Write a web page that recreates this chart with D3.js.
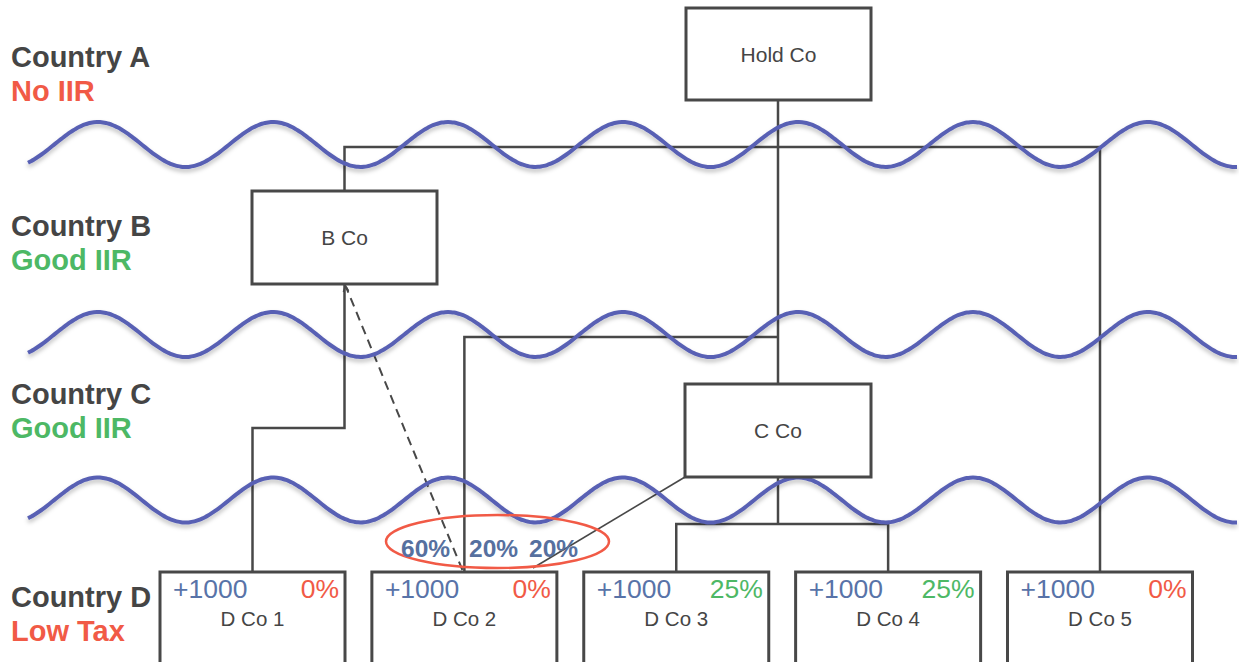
<html>
<head>
  <title>IIR structure</title>
  <script src="https://d3js.org/d3.v7.min.js"></script>
  <style>
    body { margin: 0; background: #ffffff; }
    svg { font-family: "Liberation Sans", Arial, sans-serif; }
  </style>
</head>
<body>
  <svg id="chart" width="1239" height="662"></svg>
  <script>
    // country bands
    const countries = ['Country A', 'Country B', 'Country C', 'Country D'];
    const regimes = ['No IIR', 'Good IIR', 'Good IIR', 'Low Tax'];
    const regimeKind = ['bad', 'good', 'good', 'bad'];

    // subsidiaries at the bottom
    const dCos = ['D Co 1', 'D Co 2', 'D Co 3', 'D Co 4', 'D Co 5'];
    const dIncome = ['+1000', '+1000', '+1000', '+1000', '+1000'];
    const dRate = ['0%', '0%', '25%', '25%', '0%'];
    const dRateKind = ['bad', 'bad', 'good', 'good', 'bad'];

    // ownership of D Co 2
    const shares = ['60%', '20%', '20%'];

    const colors = { bad: '#f15a46', good: '#4db865', text: '#454545', blue: '#5873a8', wave: '#5961b4', line: '#484848' };

    const svg = d3.select('#chart');

    const defs = svg.append('defs');
    const f = defs.append('filter').attr('id', 'shadow')
      .attr('x', '-5%').attr('y', '-50%').attr('width', '110%').attr('height', '200%');
    f.append('feDropShadow').attr('dx', 0).attr('dy', 3).attr('stdDeviation', 2)
      .attr('flood-color', '#000').attr('flood-opacity', 0.25);

    // scales
    const labelY = [67, 236, 404, 607];
    const xD = d3.scalePoint().domain(dCos).range([252.5, 1100]);
    const boxW = 185;
    const dTop = 572;

    // ---- connectors
    const g = svg.append('g')
      .attr('fill', 'none')
      .attr('stroke', colors.line)
      .attr('stroke-width', 2.5);

    const hold = { x: 778, top: 8, bottom: 100 };
    const bco = { x: 344.5, top: 191, bottom: 284 };
    const cco = { x: 778, top: 384, bottom: 477, left: 685 };

    const paths = [
      [[hold.x, hold.bottom], [hold.x, cco.top]],
      [[bco.x, bco.top], [bco.x, 147], [xD('D Co 5'), 147], [xD('D Co 5'), dTop]],
      [[xD('D Co 2'), dTop], [xD('D Co 2'), 337], [hold.x, 337]],
      [[bco.x, bco.bottom], [bco.x, 428], [xD('D Co 1'), 428], [xD('D Co 1'), dTop]],
      [[cco.x, cco.bottom], [cco.x, 524]],
      [[xD('D Co 3'), dTop], [xD('D Co 3'), 524], [xD('D Co 4'), 524], [xD('D Co 4'), dTop]]
    ];
    const line = d3.line();
    g.selectAll('path.conn').data(paths).join('path')
      .attr('class', 'conn')
      .attr('d', line);

    // thin line from C Co to D Co 2
    g.append('path')
      .attr('d', line([[cco.left, cco.bottom], [533, 568]]))
      .attr('stroke-width', 1.6);

    // dashed line from D Co 2 to B Co
    g.append('path')
      .attr('d', line([[xD('D Co 2') - 2, dTop - 2], [bco.x + 2, bco.bottom + 4]]))
      .attr('stroke-dasharray', '9,6')
      .attr('stroke-width', 2);
    g.append('path')
      .attr('d', line([[bco.x - 1, bco.bottom + 8], [bco.x + 1, bco.bottom + 2], [bco.x + 4, bco.bottom + 7]]))
      .attr('stroke-width', 1.8);

    // ---- waves (borders between countries)
    const waveCenters = [144.5, 334.5, 500];
    const amp = 22.5, period = 175, peak0 = 98;
    const xs = d3.range(28, 1239, 3);
    const waveLine = d3.line().curve(d3.curveBasis);
    svg.append('g').selectAll('path').data(waveCenters).join('path')
      .attr('d', c => waveLine(xs.map(x => [x, c - amp * Math.cos(2 * Math.PI * (x - peak0) / period)])))
      .attr('fill', 'none')
      .attr('stroke', colors.wave)
      .attr('stroke-width', 4)
      .attr('filter', 'url(#shadow)');

    // ---- boxes
    const boxes = [
      { name: 'Hold Co', x: 686, y: hold.top, w: 185, h: 92 },
      { name: 'B Co', x: 252, y: bco.top, w: 185, h: 93 },
      { name: 'C Co', x: cco.left, y: cco.top, w: 186, h: 93 }
    ];
    const bg = svg.append('g');
    bg.selectAll('rect').data(boxes).join('rect')
      .attr('x', d => d.x).attr('y', d => d.y)
      .attr('width', d => d.w).attr('height', d => d.h)
      .attr('fill', '#fff')
      .attr('stroke', colors.line)
      .attr('stroke-width', 3);
    bg.selectAll('text').data(boxes).join('text')
      .attr('x', d => d.x + d.w / 2)
      .attr('y', d => d.y + d.h / 2 + 7.5)
      .attr('text-anchor', 'middle')
      .attr('font-size', '21px')
      .attr('fill', colors.text)
      .text(d => d.name);

    // D boxes
    const dg = svg.append('g').selectAll('g').data(dCos).join('g')
      .attr('transform', d => `translate(${xD(d) - boxW / 2},${dTop})`);
    dg.append('rect')
      .attr('width', boxW).attr('height', 120)
      .attr('fill', '#fff')
      .attr('stroke', colors.line)
      .attr('stroke-width', 3);
    dg.append('text')
      .attr('x', 13).attr('y', 26)
      .attr('font-size', '26.5px')
      .attr('fill', colors.blue)
      .text((d, i) => dIncome[i]);
    dg.append('text')
      .attr('x', boxW - 6).attr('y', 26)
      .attr('text-anchor', 'end')
      .attr('font-size', '26.5px')
      .attr('fill', (d, i) => colors[dRateKind[i]])
      .text((d, i) => dRate[i]);
    dg.append('text')
      .attr('x', boxW / 2).attr('y', 54)
      .attr('text-anchor', 'middle')
      .attr('font-size', '20.5px')
      .attr('fill', colors.text)
      .text(d => d);

    // ---- ownership ellipse
    svg.append('ellipse')
      .attr('cx', 497.5).attr('cy', 541.5)
      .attr('rx', 111.5).attr('ry', 26.5)
      .attr('fill', 'none')
      .attr('stroke', colors.bad)
      .attr('stroke-width', 2.5);
    const shareX = [401, 469, 529];
    svg.append('g').selectAll('text').data(shares).join('text')
      .attr('x', (d, i) => shareX[i]).attr('y', 557)
      .attr('font-size', '24.5px')
      .attr('font-weight', 'bold')
      .attr('fill', '#56709f')
      .text(d => d);

    // ---- country labels
    const lg = svg.append('g').attr('font-weight', 'bold').attr('font-size', '29px');
    lg.selectAll('text.country').data(countries).join('text')
      .attr('class', 'country')
      .attr('x', 11).attr('y', (d, i) => labelY[i])
      .attr('fill', colors.text)
      .text(d => d);
    lg.selectAll('text.regime').data(regimes).join('text')
      .attr('class', 'regime')
      .attr('x', 11).attr('y', (d, i) => labelY[i] + 34)
      .attr('fill', (d, i) => colors[regimeKind[i]])
      .text(d => d);
  </script>
</body>
</html>
